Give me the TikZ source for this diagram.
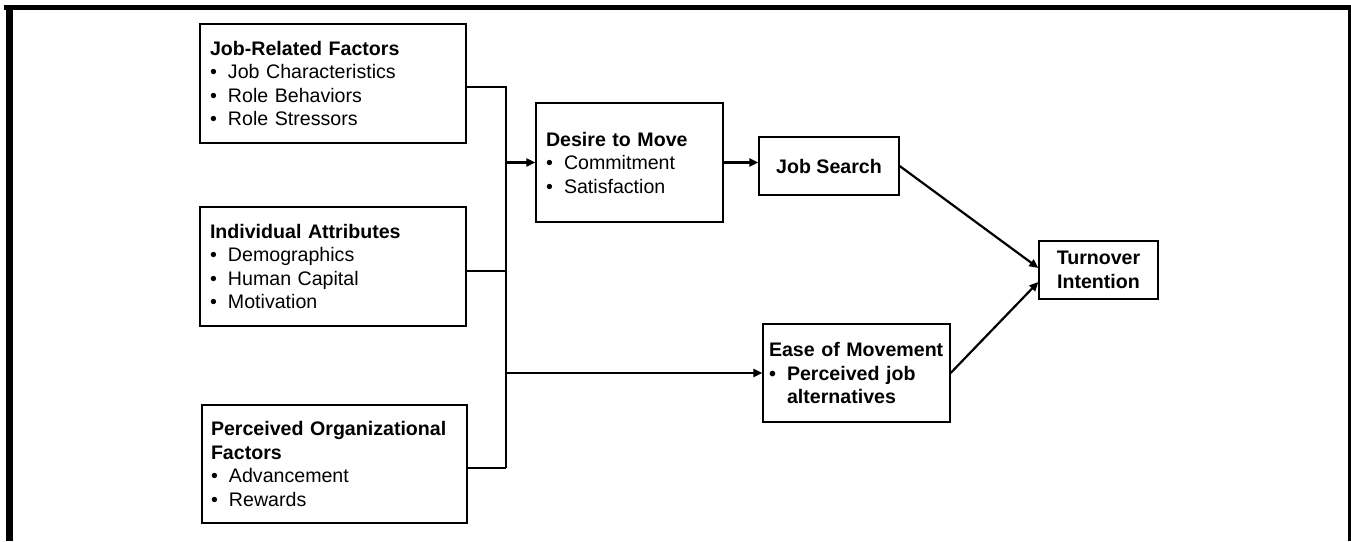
\documentclass[tikz,border=0pt]{standalone}
\usepackage{fontspec}
\setmainfont{Liberation Sans}
\usetikzlibrary{arrows.meta,calc}
\newcommand{\bul}[1]{\makebox[18pt][l]{•}#1}
\begin{document}
\begin{tikzpicture}[x=1pt,y=-1pt,
  txt/.style={font=\fontsize{19.6}{23.5}\selectfont},
  lbox/.style={draw=black,line width=1.3pt,rectangle,txt,align=left,inner xsep=10pt,inner ysep=0pt},
  cbox/.style={draw=black,line width=1.3pt,rectangle,txt,align=center,font=\fontsize{19.6}{23.5}\selectfont\bfseries,inner xsep=4pt,inner ysep=0pt},
  bline/.style={line width=1.3pt},
  arr/.style={line width=2.2pt,-{Triangle[length=9pt,width=8pt]}}]
\useasboundingbox (0,0) rectangle (1351,541);
% frame
\fill[black] (4,5) rectangle (1351,10);
\fill[black] (6,5) rectangle (13,541);
\fill[black] (1348,5) rectangle (1351,541);
% boxes
\node[lbox,minimum width=266,minimum height=119,text width=246] (jr) at (333,83.5)
  {\textbf{Job-Related Factors}\\\bul{Job Characteristics}\\\bul{Role Behaviors}\\\bul{Role Stressors}};
\node[lbox,minimum width=266,minimum height=119,text width=246] (ia) at (333,266.5)
  {\textbf{Individual Attributes}\\\bul{Demographics}\\\bul{Human Capital}\\\bul{Motivation}};
\node[lbox,minimum width=265,minimum height=118,text width=247,inner xsep=9pt] (po) at (334.5,464)
  {\textbf{Perceived Organizational}\\\textbf{Factors}\\\bul{Advancement}\\\bul{Rewards}};
\node[lbox,minimum width=187,minimum height=119,text width=167] (dm) at (629.5,162.5)
  {\textbf{Desire to Move}\\\bul{Commitment}\\\bul{Satisfaction}};
\node[cbox,minimum width=140,minimum height=58] (js) at (829,166) {Job Search};
\node[lbox,font=\fontsize{19.6}{23.5}\selectfont\bfseries,minimum width=187,minimum height=98,text width=175,inner xsep=6pt] (em) at (856.5,373)
  {Ease of Movement\\\bul{Perceived job}\\\hspace*{18pt}alternatives};
\node[cbox,minimum width=119,minimum height=58] (ti) at (1098.5,270) {Turnover\\Intention};
% bus
\coordinate (bb) at (506,468);
\draw[bline] ([yshift=-3.5pt]jr.east) -| (bb);
\draw[bline] ([yshift=-4.5pt]ia.east) -- ([yshift=-4.5pt]ia.east -| bb);
\draw[bline] ([yshift=-4pt]po.east) -- (bb);
% arrows
\draw[arr] (bb |- dm.west) -- (dm.west);
\draw[arr] (bb |- em.west) -- (em.west);
\draw[arr] (dm.east) -- (js.west |- dm.east);
\draw[arr] (js.east) -- ([yshift=2pt]ti.west);
\draw[arr] (em.east) -- ([yshift=-12pt]ti.west);
\end{tikzpicture}
\end{document}
